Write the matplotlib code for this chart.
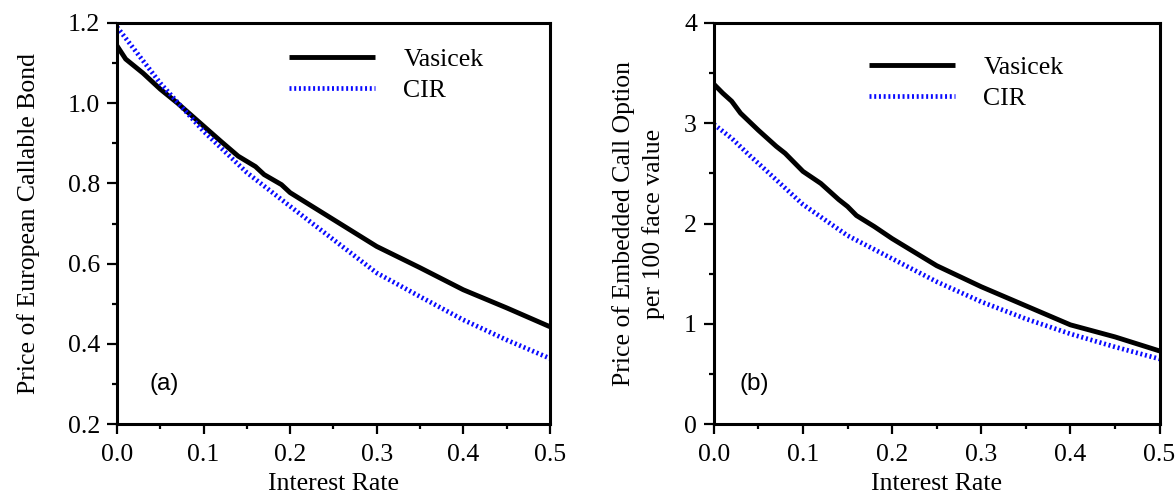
import matplotlib
matplotlib.use("Agg")
import matplotlib.pyplot as plt
from matplotlib.ticker import MultipleLocator

# panel (a): price of European callable bond
rate_a = [0.0, 0.01, 0.03, 0.05, 0.07, 0.10, 0.12, 0.14, 0.16, 0.17, 0.19, 0.20,
          0.25, 0.30, 0.35, 0.40, 0.45, 0.50]
vasicek_a = [1.143, 1.11, 1.075, 1.035, 1.0, 0.943, 0.905, 0.868, 0.842, 0.822, 0.797, 0.777,
             0.71, 0.643, 0.59, 0.535, 0.49, 0.443]
rate_cir_a = [0.0, 0.05, 0.10, 0.15, 0.20, 0.25, 0.30, 0.35, 0.40, 0.45, 0.50]
cir_a = [1.19, 1.05, 0.93, 0.827, 0.743, 0.66, 0.577, 0.518, 0.46, 0.41, 0.364]

# panel (b): price of embedded call option per 100 face value
rate_b = [0.0, 0.01, 0.02, 0.03, 0.05, 0.07, 0.08, 0.10, 0.12, 0.14, 0.15, 0.16, 0.18, 0.20,
          0.25, 0.30, 0.35, 0.40, 0.45, 0.50]
vasicek_b = [3.39, 3.3, 3.22, 3.1, 2.93, 2.77, 2.7, 2.52, 2.4, 2.24, 2.17, 2.08, 1.97, 1.85,
             1.58, 1.37, 1.18, 0.99, 0.87, 0.73]
rate_cir_b = [0.0, 0.02, 0.04, 0.05, 0.10, 0.15, 0.20, 0.25, 0.30, 0.35, 0.40, 0.45, 0.50]
cir_b = [2.99, 2.85, 2.68, 2.6, 2.19, 1.88, 1.65, 1.42, 1.22, 1.05, 0.9, 0.77, 0.65]

plt.rcParams["font.family"] = ["Liberation Serif", "DejaVu Serif"]

fig = plt.figure(figsize=(11.76, 4.99), dpi=100)
ax_a = fig.add_axes([0.0995, 0.150, 0.368, 0.804])
ax_b = fig.add_axes([0.607, 0.150, 0.379, 0.804])

dot = (0, (0.42, 0.58))
blue = "#0a0aff"
fs = 18.5

panels = [
    (ax_a, rate_a, vasicek_a, rate_cir_a, cir_a, (0.2, 1.2), 0.2, 0.1,
     "Price of European Callable Bond", 20, "(a)", 0.076, (0.374, 0.963)),
    (ax_b, rate_b, vasicek_b, rate_cir_b, cir_b, (0, 4), 1, 0.5,
     "Price of Embedded Call Option\nper 100 face value", 14, "(b)", 0.058, (0.325, 0.9425)),
]

for ax, xv, yv, xc, yc, ylim, ymaj, ymin, ylabel, lpad, tag, tag_x, anchor in panels:
    ax.plot(xv, yv, color="black", lw=3.5, label="Vasicek", solid_capstyle="butt")
    ax.plot(xc, yc, color=blue, lw=3.4, linestyle=dot, label="CIR")
    ax.set_xlim(0, 0.5)
    ax.set_ylim(*ylim)
    ax.xaxis.set_major_locator(MultipleLocator(0.1))
    ax.xaxis.set_minor_locator(MultipleLocator(0.05))
    ax.yaxis.set_major_locator(MultipleLocator(ymaj))
    ax.yaxis.set_minor_locator(MultipleLocator(ymin))
    if ymaj < 1:
        ax.yaxis.set_major_formatter(lambda v, p: f"{v:.1f}")
    ax.xaxis.set_major_formatter(lambda v, p: f"{v:.1f}")
    ax.tick_params(which="both", direction="out", width=1.6, labelsize=fs,
                   top=False, right=False)
    ax.tick_params(which="major", length=7.2)
    ax.tick_params(which="minor", length=3.8)
    ax.tick_params(axis="x", pad=7)
    ax.tick_params(axis="y", pad=5)
    for s in ax.spines.values():
        s.set_linewidth(2.2)
    ax.set_xlabel("Interest Rate", fontsize=fs, labelpad=5)
    ax.set_ylabel(ylabel, fontsize=fs, labelpad=lpad, linespacing=1.38)
    ax.text(tag_x, 0.085, tag, transform=ax.transAxes, fontsize=17.5,
            family=["Liberation Sans", "DejaVu Sans"])
    ax.legend(loc="upper left", bbox_to_anchor=anchor, borderaxespad=0, frameon=False,
              fontsize=fs, handlelength=3.33, handletextpad=1.12, labelspacing=0.3)

fig.savefig("out.png", dpi=100)
